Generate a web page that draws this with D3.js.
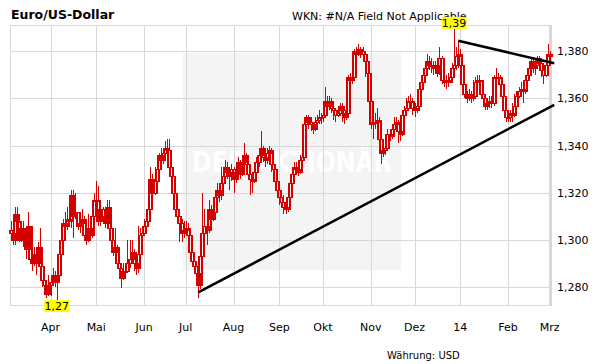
<!DOCTYPE html>
<html>
<head>
<meta charset="utf-8">
<script src="https://cdn.jsdelivr.net/npm/d3@7"></script>
<style>
  body { margin: 0; background: #fff; }
  svg { display: block; font-family: "DejaVu Sans", sans-serif; }
</style>
</head>
<body>
<div id="chart"></div>
<script>
// daily EUR/USD, Mar 2013 - Mar 2014 (open = previous close)
var firstOpen = 1.304;
var closes = [
  1.303,1.300,1.311,1.308,1.300,1.305,1.302,1.296,1.306,1.292,
  1.290,1.294,1.290,1.297,1.289,1.283,1.281,1.277,1.281,1.282,
  1.285,1.282,1.285,1.294,1.300,1.307,1.306,1.309,1.308,1.319,
  1.310,1.312,1.306,1.307,1.309,1.302,1.300,1.305,1.302,1.310,
  1.317,1.317,1.308,1.313,1.310,1.307,1.314,1.305,1.300,1.295,
  1.297,1.290,1.288,1.284,1.287,1.287,1.290,1.292,1.295,1.290,
  1.288,1.294,1.302,1.303,1.306,1.308,1.313,1.326,1.320,1.325,
  1.330,1.336,1.334,1.337,1.339,1.338,1.331,1.327,1.320,1.313,
  1.310,1.307,1.303,1.304,1.305,1.302,1.295,1.291,1.289,1.286,
  1.281,1.293,1.303,1.306,1.304,1.313,1.309,1.312,1.318,1.321,
  1.319,1.324,1.327,1.331,1.329,1.327,1.330,1.326,1.329,1.333,
  1.328,1.333,1.336,1.332,1.328,1.326,1.325,1.329,1.333,1.336,
  1.339,1.335,1.334,1.337,1.338,1.332,1.330,1.325,1.321,1.318,
  1.316,1.314,1.313,1.318,1.324,1.328,1.331,1.330,1.329,1.334,
  1.335,1.349,1.352,1.350,1.349,1.347,1.350,1.351,1.352,1.352,
  1.353,1.359,1.357,1.359,1.356,1.355,1.353,1.354,1.357,1.355,
  1.352,1.354,1.369,1.368,1.369,1.380,1.379,1.381,1.380,1.379,
  1.376,1.371,1.359,1.349,1.350,1.350,1.351,1.343,1.337,1.338,
  1.339,1.345,1.344,1.347,1.349,1.350,1.346,1.345,1.353,1.355,
  1.356,1.359,1.359,1.356,1.355,1.357,1.364,1.367,1.370,1.373,
  1.376,1.374,1.374,1.373,1.374,1.371,1.377,1.368,1.367,1.368,
  1.367,1.369,1.373,1.374,1.378,1.379,1.374,1.366,1.362,1.360,
  1.362,1.360,1.361,1.367,1.368,1.368,1.362,1.360,1.357,1.358,
  1.359,1.358,1.369,1.369,1.369,1.366,1.361,1.355,1.352,1.352,
  1.354,1.353,1.357,1.361,1.363,1.364,1.363,1.368,1.370,1.373,
  1.376,1.373,1.374,1.377,1.375,1.372,1.370,1.374,1.379,1.378
];
var highs = [
  1.308,1.308,1.314,1.314,1.307,1.307,1.308,1.303,1.312,1.306,
  1.296,1.297,1.295,1.299,1.305,1.290,1.285,1.283,1.285,1.284,
  1.288,1.287,1.287,1.295,1.301,1.309,1.312,1.314,1.311,1.321,
  1.321,1.320,1.312,1.310,1.313,1.310,1.304,1.311,1.306,1.312,
  1.320,1.325,1.323,1.315,1.314,1.312,1.317,1.317,1.306,1.302,
  1.305,1.298,1.292,1.290,1.290,1.290,1.300,1.300,1.300,1.296,
  1.292,1.306,1.305,1.306,1.309,1.311,1.315,1.331,1.328,1.331,
  1.335,1.337,1.339,1.339,1.342,1.343,1.343,1.333,1.328,1.321,
  1.315,1.313,1.309,1.308,1.308,1.307,1.303,1.297,1.293,1.291,
  1.288,1.296,1.320,1.313,1.308,1.317,1.315,1.315,1.320,1.324,
  1.323,1.331,1.330,1.334,1.333,1.331,1.332,1.331,1.331,1.335,
  1.334,1.336,1.341,1.337,1.333,1.331,1.328,1.331,1.335,1.338,
  1.346,1.340,1.337,1.339,1.340,1.339,1.336,1.331,1.326,1.322,
  1.320,1.319,1.317,1.320,1.326,1.330,1.333,1.333,1.332,1.336,
  1.337,1.352,1.353,1.353,1.352,1.350,1.352,1.353,1.355,1.354,
  1.358,1.365,1.361,1.361,1.360,1.358,1.356,1.356,1.358,1.358,
  1.356,1.357,1.370,1.371,1.372,1.381,1.382,1.383,1.382,1.382,
  1.380,1.377,1.372,1.359,1.352,1.354,1.356,1.352,1.344,1.341,
  1.342,1.347,1.347,1.349,1.352,1.352,1.351,1.348,1.355,1.357,
  1.360,1.361,1.362,1.360,1.358,1.359,1.366,1.370,1.372,1.375,
  1.379,1.378,1.377,1.376,1.376,1.376,1.382,1.378,1.370,1.370,
  1.371,1.372,1.375,1.3895,1.382,1.3845,1.381,1.376,1.368,1.363,
  1.364,1.363,1.368,1.369,1.370,1.370,1.368,1.363,1.361,1.360,
  1.361,1.361,1.370,1.373,1.371,1.370,1.367,1.362,1.356,1.355,
  1.355,1.358,1.362,1.363,1.365,1.367,1.366,1.369,1.372,1.375,
  1.377,1.377,1.376,1.378,1.378,1.376,1.373,1.377,1.383,1.380
];
var lows = [
  1.301,1.298,1.298,1.306,1.299,1.299,1.297,1.292,1.295,1.291,
  1.287,1.289,1.285,1.289,1.285,1.280,1.278,1.2755,1.276,1.276,
  1.281,1.280,1.2745,1.284,1.292,1.299,1.304,1.304,1.306,1.305,
  1.301,1.309,1.304,1.303,1.305,1.300,1.298,1.299,1.300,1.301,
  1.309,1.315,1.306,1.306,1.307,1.305,1.306,1.303,1.298,1.293,
  1.292,1.288,1.285,1.2795,1.283,1.284,1.286,1.288,1.291,1.287,
  1.285,1.286,1.293,1.300,1.302,1.304,1.307,1.312,1.318,1.319,
  1.324,1.329,1.331,1.332,1.335,1.336,1.329,1.324,1.318,1.311,
  1.307,1.299,1.299,1.301,1.302,1.299,1.294,1.289,1.287,1.284,
  1.2755,1.279,1.292,1.301,1.298,1.303,1.307,1.308,1.311,1.317,
  1.316,1.317,1.322,1.325,1.326,1.321,1.325,1.320,1.324,1.327,
  1.326,1.327,1.331,1.329,1.326,1.319,1.320,1.324,1.328,1.331,
  1.334,1.333,1.331,1.332,1.334,1.329,1.326,1.323,1.319,1.315,
  1.314,1.311,1.311,1.312,1.316,1.322,1.327,1.328,1.327,1.328,
  1.332,1.334,1.347,1.347,1.346,1.345,1.346,1.348,1.349,1.349,
  1.350,1.352,1.354,1.355,1.354,1.351,1.350,1.352,1.353,1.350,
  1.349,1.351,1.353,1.366,1.366,1.368,1.377,1.378,1.377,1.376,
  1.369,1.368,1.357,1.347,1.343,1.347,1.348,1.339,1.332,1.335,
  1.336,1.338,1.342,1.343,1.346,1.348,1.341,1.342,1.344,1.352,
  1.354,1.355,1.357,1.353,1.352,1.354,1.356,1.363,1.366,1.369,
  1.372,1.372,1.371,1.370,1.371,1.369,1.370,1.366,1.365,1.364,
  1.365,1.367,1.368,1.371,1.372,1.373,1.372,1.362,1.360,1.358,
  1.359,1.358,1.359,1.360,1.366,1.365,1.360,1.357,1.355,1.355,
  1.356,1.356,1.357,1.367,1.366,1.364,1.358,1.352,1.350,1.350,
  1.350,1.350,1.352,1.357,1.360,1.362,1.358,1.362,1.367,1.369,
  1.372,1.371,1.370,1.373,1.373,1.369,1.366,1.369,1.373,1.375
];

var monthLabels = ["Apr", "Mai", "Jun", "Jul", "Aug", "Sep", "Okt", "Nov", "Dez", "14", "Feb", "Mrz"];
var monthStarts = [19, 41, 64, 84, 107, 129, 150, 173, 194, 216, 239, 259]; // day index of 1st trading day
var yTicks = [1.28, 1.30, 1.32, 1.34, 1.36, 1.38];

// trend lines: [startDay, startPrice, endDay, endPrice]
var trendLines = [
  [90, 1.2777, 261.2, 1.3573],
  [215, 1.3845, 261.2, 1.3749]
];
var markLow = { day: 22, value: 1.2745, text: "1,27" };
var markHigh = { day: 213, value: 1.3895, text: "1,39" };

function init() {
  var W = 611, H = 364;
  var left = 10, right = 550, top = 25, bottom = 305;

  var svg = d3.select("#chart").append("svg")
    .attr("width", W)
    .attr("height", H);

  var x = d3.scaleLinear().domain([0, closes.length - 1]).range([11, 549.7]);
  var y = d3.scaleLinear().domain([1.28, 1.38]).range([287, 51.3]);
  var fmt = function(v) { return d3.format(".3f")(v).replace(".", ","); };

  // title + info
  svg.append("text").attr("x", 11).attr("y", 19)
    .style("font-size", "12.5px").style("font-weight", "bold").text("Euro/US-Dollar");
  svg.append("text").attr("x", 292).attr("y", 20)
    .style("font-size", "11px").text("WKN: #N/A Field Not Applicable");
  svg.append("text").attr("x", 387).attr("y", 359)
    .style("font-size", "10px").text("Währung: USD");

  // watermark
  svg.append("rect").attr("x", 183).attr("y", 53).attr("width", 218).attr("height", 217)
    .attr("fill", "#f4f4f4");
  svg.append("text").attr("x", 192).attr("y", 172)
    .attr("textLength", 200).attr("lengthAdjust", "spacingAndGlyphs")
    .style("font-family", "'DejaVu Sans Condensed', 'DejaVu Sans', sans-serif")
    .style("font-weight", "bold").style("font-size", "28px")
    .attr("fill", "#ffffff").text("DER AKTIONÄR");

  // grid
  var grid = svg.append("g").attr("stroke", "#d8d8d8").attr("shape-rendering", "crispEdges");
  grid.selectAll("line.h").data(yTicks).enter().append("line")
    .attr("x1", left).attr("x2", right)
    .attr("y1", function(d) { return Math.round(y(d)) + 0.5; })
    .attr("y2", function(d) { return Math.round(y(d)) + 0.5; });
  grid.selectAll("line.v").data(monthStarts).enter().append("line")
    .attr("y1", top).attr("y2", bottom)
    .attr("x1", function(d) { return Math.round(x(d)) + 0.5; })
    .attr("x2", function(d) { return Math.round(x(d)) + 0.5; });
  grid.append("line").attr("x1", left + 0.5).attr("x2", left + 0.5).attr("y1", top).attr("y2", bottom);
  grid.append("line").attr("x1", left).attr("x2", right).attr("y1", top + 0.5).attr("y2", top + 0.5);
  grid.append("line").attr("x1", left).attr("x2", right + 2).attr("y1", bottom + 0.5).attr("y2", bottom + 0.5);
  grid.append("line").attr("x1", right + 0.5).attr("x2", right + 0.5).attr("y1", top).attr("y2", bottom + 1)
    .attr("stroke-width", 3);

  // axis labels
  svg.selectAll("text.yl").data(yTicks).enter().append("text")
    .attr("x", 557).attr("y", function(d) { return y(d) + 4; })
    .style("font-size", "11px").text(fmt);
  svg.selectAll("text.xl").data(monthStarts).enter().append("text")
    .attr("x", function(d) { return x(d); }).attr("y", 331)
    .attr("text-anchor", "middle").style("font-size", "11px")
    .text(function(d, i) { return monthLabels[i]; });

  // candles (hollow boxes, open = previous close)
  var candles = svg.append("g").attr("stroke", "#d40000").attr("fill", "none")
    .attr("stroke-width", 1.2).attr("shape-rendering", "crispEdges");
  closes.forEach(function(c, i) {
    var o = i ? closes[i - 1] : firstOpen;
    var cx = Math.round(x(i)) + 0.5;
    var yt = Math.round(y(Math.max(o, c))), yb = Math.round(y(Math.min(o, c)));
    if (yb - yt < 1) yb = yt + 1;
    candles.append("line").attr("x1", cx).attr("x2", cx)
      .attr("y1", Math.round(y(highs[i]))).attr("y2", yt);
    candles.append("line").attr("x1", cx).attr("x2", cx)
      .attr("y1", yb).attr("y2", Math.round(y(lows[i])));
    candles.append("rect").attr("x", cx - 1.5).attr("width", 3)
      .attr("y", yt + 0.5).attr("height", yb - yt);
  });

  // trend lines
  svg.selectAll("line.trend").data(trendLines).enter().append("line")
    .attr("x1", function(d) { return x(d[0]); }).attr("y1", function(d) { return y(d[1]); })
    .attr("x2", function(d) { return x(d[2]); }).attr("y2", function(d) { return y(d[3]); })
    .attr("stroke", "#000").attr("stroke-width", 2.5);

  // min / max marks
  [markLow, markHigh].forEach(function(m, k) {
    var cx = x(m.day), yy = y(m.value);
    var by = k === 0 ? yy : yy - 12;
    svg.append("rect").attr("x", cx - 12.5).attr("y", by).attr("width", 25).attr("height", 12)
      .attr("fill", "#ffff00");
    svg.append("text").attr("x", cx).attr("y", by + 10.5).attr("text-anchor", "middle")
      .style("font-size", "11px").text(m.text);
  });
}
window.onload = init;
</script>
</body>
</html>
